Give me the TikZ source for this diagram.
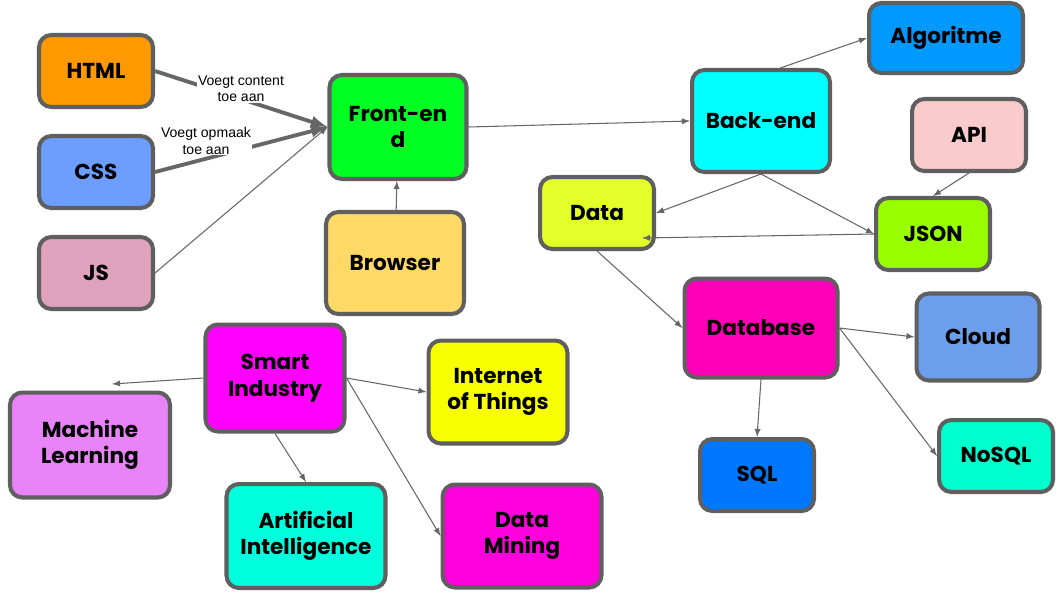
\documentclass[tikz,border=0pt]{standalone}
\usepackage{fontspec}
\setmainfont{Poppins}
\newfontfamily\labelfont{Liberation Sans}
\usetikzlibrary{positioning}
\definecolor{edgegray}{HTML}{5F5F5F}
\definecolor{linegray}{HTML}{666666}
\definecolor{htmlc}{HTML}{FF9900}
\definecolor{cssc}{HTML}{6D9EFF}
\definecolor{jsc}{HTML}{DFA3BE}
\definecolor{frontc}{HTML}{00FF22}
\definecolor{browserc}{HTML}{FFD966}
\definecolor{backc}{HTML}{00FFFF}
\definecolor{algoc}{HTML}{0099FF}
\definecolor{apic}{HTML}{F9CBCB}
\definecolor{datac}{HTML}{E2FF2A}
\definecolor{jsonc}{HTML}{99FF00}
\definecolor{dbc}{HTML}{FF00B8}
\definecolor{cloudc}{HTML}{6D9EEB}
\definecolor{nosqlc}{HTML}{00FFCC}
\definecolor{sqlc}{HTML}{0077FF}
\definecolor{smartc}{HTML}{FF00FF}
\definecolor{iotc}{HTML}{F7FF00}
\definecolor{mlc}{HTML}{E883F8}
\definecolor{aic}{HTML}{00FFDD}
\definecolor{dmc}{HTML}{FF00DD}
\tikzset{block/.style={draw=edgegray,line width=2.3pt,rounded corners=7pt,align=center,
                       font=\bfseries\fontsize{12.3}{15}\selectfont,inner sep=2pt},
         small/.style={block,minimum width=2.28cm,minimum height=1.44cm},
         large/.style={block,minimum width=2.76cm,minimum height=2.06cm},
         wide/.style={block,minimum width=3.18cm,minimum height=2.08cm},
         line/.style={-latex,draw=linegray,line width=0.6pt},
         edgelabel/.style={fill=white,inner sep=0.5pt,align=center,
                       font=\labelfont\fontsize{8}{9.2}\selectfont}
}
\tikzstyle{arrow} = [draw=linegray,line width=2.2pt,-latex]

\begin{document}
\begin{tikzpicture}[x=0.02cm,y=-0.02cm]
\useasboundingbox (0,0) rectangle (1060,596);

% web
\node[small,fill=htmlc] (html) at (96,71) {HTML};
\node[small,fill=cssc] (css) at (96,172) {CSS};
\node[small,fill=jsc] (js) at (96,273) {JS};
\node[large,fill=frontc,minimum width=2.74cm,minimum height=2.08cm] (front) at (398,127) {Front-en\\d};
\node[large,fill=browserc,minimum height=2.04cm] (browser) at (395,263) {Browser};
\node[large,fill=backc,minimum height=2.04cm] (back) at (761,121) {Back-end};
\node[small,fill=algoc,minimum width=3.08cm,minimum height=1.40cm] (algo) at (946,38) {Algoritme};
\node[small,fill=apic] (api) at (969,135) {API};
\node[small,fill=datac] (data) at (597,213) {Data};
\node[small,fill=jsonc] (json) at (933,234) {JSON};
\node[block,fill=dbc,minimum width=3.06cm,minimum height=1.98cm] (db) at (761,328) {Database};
\node[block,fill=cloudc,minimum width=2.46cm,minimum height=1.74cm] (cloud) at (978,337) {Cloud};
\node[small,fill=nosqlc] (nosql) at (996,456) {NoSQL};
\node[small,fill=sqlc] (sql) at (757,475) {SQL};

% smart industry
\node[large,fill=smartc,minimum width=2.78cm,minimum height=2.14cm] (smart) at (275,378) {Smart\\Industry};
\node[large,fill=iotc,minimum width=2.78cm] (iot) at (498,392) {Internet\\of Things};
\node[wide,fill=mlc,minimum width=3.2cm,minimum height=2.1cm] (ml) at (90,445) {Machine\\Learning};
\node[wide,fill=aic] (ai) at (306,536) {Artificial\\Intelligence};
\node[wide,fill=dmc,minimum height=2.06cm] (dm) at (522,536) {Data\\Mining};
\coordinate (mltip) at (112,384);

\draw[arrow] (html.east)--(front.west);
\draw[arrow] (css.east)--(front.west);
\node[edgelabel] (contentlabel) at (241,89) {Voegt content\\toe aan};
\node[edgelabel] (opmaaklabel) at (206,141) {Voegt opmaak\\toe aan};
\draw[line] (js.east)--(front.west);
\draw[line] (browser)--(front);
\draw[line] (front.east)--(back.west);
\draw[line] (back.70)--(algo.west);
\draw[line] (back.south)--(data.east);
\draw[line] (back.south)--(json.west);
\draw[line] (api.south)--(json.north);
\draw[line] (json.west)--([shift={(-14,25)}]data.east);
\draw[line] (data.south)--(db.west);
\draw[line] (db.east)--(cloud.west);
\draw[line] (db.east)--(nosql.west);
\draw[line] (db.south)--(sql.north);
\draw[line] (smart.west)--(mltip);
\draw[line] (smart.east)--(iot.west);
\draw[line] (smart.south)--(ai.north);
\draw[line] (smart.east)--(dm.west);

\end{tikzpicture}
\end{document}
